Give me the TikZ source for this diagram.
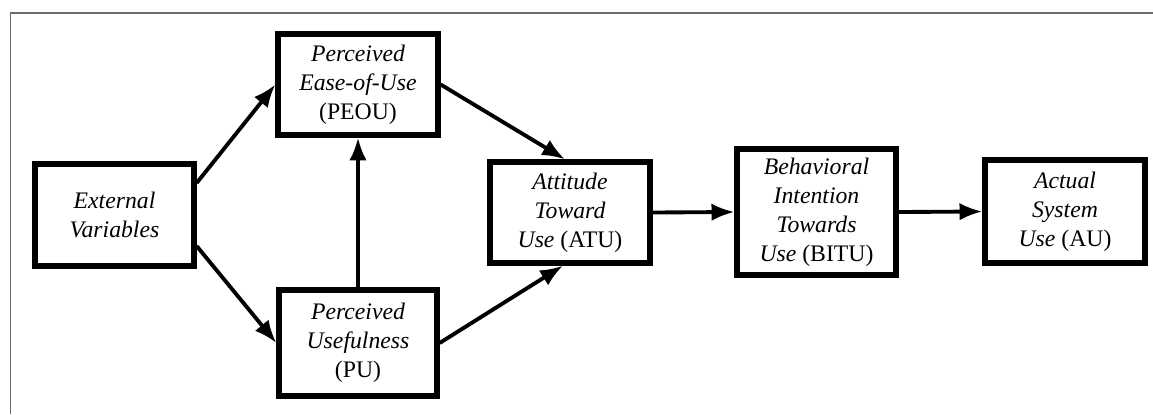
\documentclass[tikz,border=0pt]{standalone}
\usepackage{fontspec}
\setmainfont{Liberation Serif}
\usetikzlibrary{arrows.meta}

\begin{document}
\begin{tikzpicture}[x=0.02cm,y=-0.02cm,
    box/.style={draw,line width=3pt,rectangle,align=center,inner sep=2pt,
      font=\fontsize{13.5}{16.5}\selectfont\itshape},
    link/.style={line width=2.2pt,-{Latex[length=13pt,width=10pt]}}]
    \useasboundingbox (0,0) rectangle (1153,414);
    \draw[gray!85!black,line width=0.6pt] (1153,13) -- (10.5,13) -- (10.5,414);

    \node[box,minimum width=159*0.02cm,minimum height=102*0.02cm](ext)at(114.5,215){External\\Variables};
    \node[box,minimum width=160*0.02cm,minimum height=101*0.02cm](peou)at(358,84.5){Perceived\\Ease-of-Use\\\textup{(PEOU)}};
    \node[box,minimum width=158*0.02cm,minimum height=106*0.02cm](pu)at(358,343){Perceived\\Usefulness\\\textup{(PU)}};
    \node[box,minimum width=160*0.02cm,minimum height=101*0.02cm](atu)at(570,212.5){Attitude\\Toward\\Use \textup{(ATU)}};
    \node[box,minimum width=159*0.02cm,minimum height=126*0.02cm](bitu)at(816.5,212){Behavioral\\Intention\\Towards\\Use \textup{(BITU)}};
    \node[box,minimum width=160*0.02cm,minimum height=103*0.02cm](au)at(1065,211.5){Actual\\System\\Use \textup{(AU)}};

    \draw[link] ([yshift=0.64cm]ext.east) to (peou.west);
    \draw[link] ([yshift=-0.62cm]ext.east) to (pu.west);
    \draw[link] (pu.north) to (peou.south);
    \draw[link] (peou.east) to ([xshift=-0.1cm]atu.north);
    \draw[link] (pu.east) to ([xshift=-0.14cm]atu.south);
    \draw[link] (atu.east) to (bitu.west);
    \draw[link] (bitu.east) to (au.west);
  \end{tikzpicture}
\end{document}
